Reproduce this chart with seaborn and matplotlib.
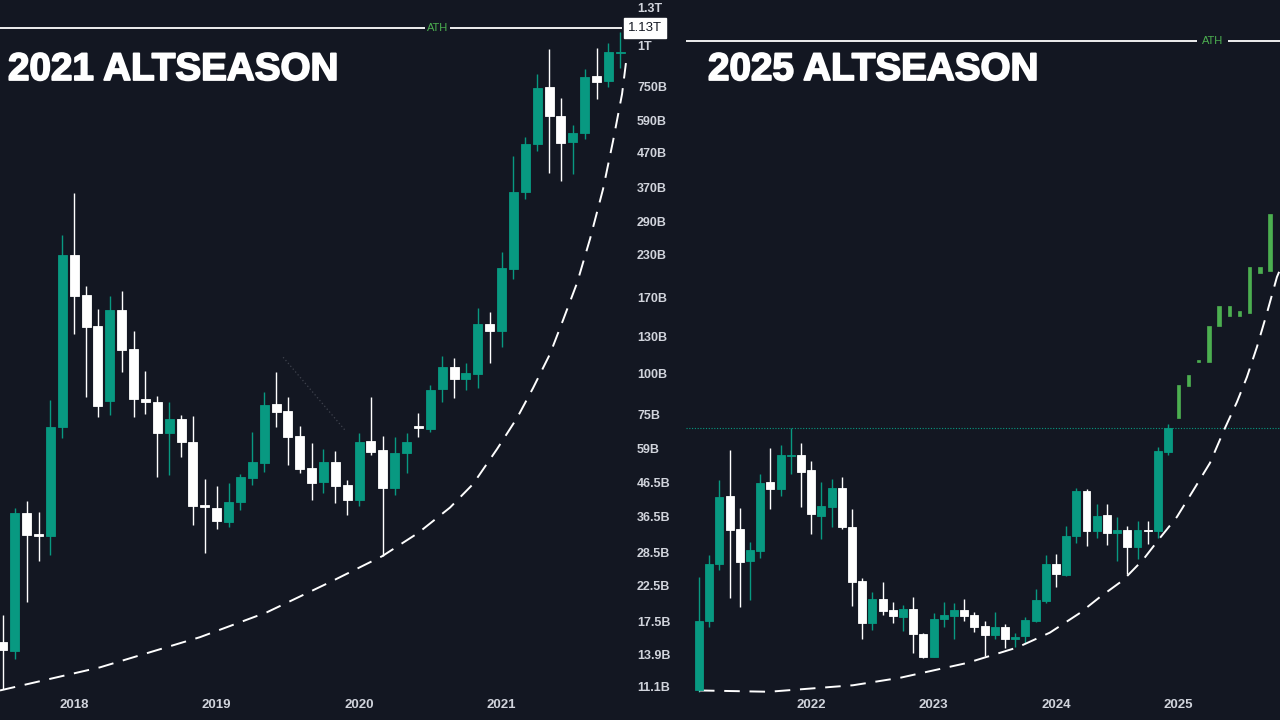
import numpy as np
import pandas as pd
import matplotlib
matplotlib.use('Agg')
import matplotlib.pyplot as plt
import matplotlib.transforms as mtransforms
import matplotlib.patheffects as pe
from matplotlib.ticker import NullLocator
import seaborn as sns

# ---- data (values in billions USD) ----
left_start = '2017-07'
left_open = [15.2, 14.2, 37.5, 32.4, 31.9, 68.6, 230, 173, 139.5, 82.4, 156, 118.6, 83.5, 81.8, 65.8,
             72.6, 61.8, 39.7, 38.9, 35.2, 40.5, 48.0, 53.3, 80.7, 76.8, 64.4, 51.5, 46.6, 53.7, 45.7,
             41.1, 62.2, 58.4, 44.7, 57.2, 69.1, 67.7, 89.6, 104.6, 96.1, 99.5, 141, 134.6, 208, 357,
             500, 747, 609, 507, 541, 806, 778, 948]
left_high = [18.3, 38.9, 40.8, 37.8, 83.0, 264, 355, 185, 157, 172, 178, 134.6, 101.7, 85.3, 81.8,
             74.7, 74.1, 47.6, 45.3, 46.3, 49.4, 66.3, 87.7, 100.9, 84.7, 69.1, 61.3, 58.8, 58.0, 47.3,
             65.8, 84.7, 64.4, 64.0, 65.8, 75.7, 92.1, 112.9, 111.4, 107.6, 158, 154, 234, 460, 526,
             818, 975, 691, 572, 847, 982, 1016, 1098]
left_low = [10.9, 13.5, 20.1, 26.8, 27.9, 63.5, 131.8, 84.7, 73.6, 74.7, 100.9, 73.6, 75.2, 48.3, 49.0,
            55.6, 34.5, 28.3, 33.5, 34.0, 38.3, 45.7, 50.1, 68.6, 52.6, 49.7, 41.1, 43.2, 40.2, 37.0,
            39.4, 56.4, 27.7, 42.6, 49.7, 64.0, 66.3, 81.8, 84.1, 89.0, 90.2, 107.6, 120.4, 194, 340,
            476, 408, 386, 405, 518, 686, 747, 853]
left_close = [14.3, 37.5, 32.2, 31.9, 68.6, 230, 172, 138.5, 79.5, 156, 117.8, 83.5, 81.8, 65.8, 72.6,
              61.8, 39.4, 39.1, 35.5, 40.5, 48.3, 53.7, 80.1, 76.3, 64.0, 51.1, 46.3, 53.7, 45.3, 41.1,
              61.8, 57.6, 44.7, 57.2, 61.8, 68.1, 89.0, 104.6, 96.1, 100.2, 141, 134.6, 210, 357, 500,
              741, 609, 504, 541, 801, 773, 954, 954]

right_start = '2021-02'
right_open = [10.8, 17.6, 26.2, 42.3, 33.5, 26.8, 28.7, 46.6, 44.4, 56.0, 56.4, 50.8, 36.7, 39.1, 44.7,
              34.0, 23.3, 17.3, 20.5, 19.0, 18.1, 19.1, 16.0, 13.7, 17.8, 18.2, 19.0, 18.3, 17.0, 15.9,
              16.9, 15.5, 15.8, 17.6, 20.2, 26.2, 24.3, 31.9, 43.8, 33.1, 37.0, 32.6, 33.3, 29.6, 33.3,
              33.1, 57.6]
right_high = [23.9, 27.9, 47.3, 58.4, 38.9, 30.6, 49.4, 59.2, 60.5, 68.1, 61.3, 54.1, 46.6, 47.6, 48.3,
              38.6, 23.8, 21.6, 23.1, 20.1, 19.7, 20.8, 16.2, 18.6, 20.1, 19.9, 20.5, 18.7, 17.6, 18.7,
              17.2, 16.2, 18.1, 22.0, 27.9, 28.1, 34.3, 44.7, 44.4, 40.0, 40.0, 36.5, 34.3, 35.5, 35.5,
              59.6, 70.1]
right_low = [10.7, 16.9, 25.1, 20.7, 19.4, 20.4, 27.4, 38.6, 42.3, 49.4, 39.1, 32.4, 31.3, 34.0, 33.5,
             19.5, 15.5, 16.5, 18.3, 17.3, 16.4, 14.0, 13.6, 13.7, 16.9, 15.5, 17.6, 16.3, 13.8, 15.5,
             14.5, 14.6, 15.1, 17.5, 19.9, 22.3, 24.1, 30.4, 29.8, 31.5, 30.0, 26.8, 24.5, 27.2, 30.2,
             31.5, 56.4]
right_close = [17.6, 26.2, 42.0, 33.3, 26.6, 28.9, 46.3, 44.4, 56.4, 56.4, 50.1, 37.3, 39.4, 44.7, 34.0,
               23.1, 17.3, 20.5, 18.9, 18.2, 19.1, 16.0, 13.7, 17.8, 18.3, 19.0, 18.2, 16.9, 15.9, 16.9,
               15.5, 15.7, 17.7, 20.4, 26.2, 24.5, 31.9, 43.8, 33.1, 36.7, 32.6, 33.3, 29.6, 33.3, 33.1,
               58.0, 68.1]

# projected 2025 bars (low / high)
proj_low = [73.1, 91.5, 108.3, 108.3, 139.5, 149.6, 149.6, 152.8, 202, 205]
proj_high = [92.1, 98.9, 109.8, 139.5, 160.5, 160.5, 154.9, 211, 211, 306]

# hand-drawn support curves (month position, value)
left_curve_x = [-0.25, 8.17, 16.6, 22.24, 27.55, 31.93, 34.96, 37.66, 39.6, 41.62, 43.3,
                44.65, 46.08, 47.18, 48.36, 49.45, 50.55, 51.39, 52.15, 52.57]
left_curve_y = [10.8, 12.7, 15.7, 18.7, 23.1, 27.7, 32.6, 39.0, 46.0, 58.8, 73.1,
                90.2, 114.6, 145.4, 188.7, 256.9, 364.9, 511, 711, 941]
right_curve_x = [0, 6.86, 15.1, 19.7, 26.3, 31.2, 34.4, 37.35, 39.31, 41.57, 43.53, 45.2, 46.86,
                 48.43, 50.1, 51.57, 52.75, 53.73, 54.71, 55.69, 56.67, 56.96]
right_curve_y = [10.8, 10.7, 11.2, 11.8, 13.1, 14.6, 16.2, 18.6, 20.8, 23.4, 27.0, 31.5, 36.5,
                 43.8, 53.3, 68.1, 81.8, 97.5, 120.4, 152.8, 196.7, 206.6]

ath_left = 1130
ath_right = 1030
breakout_level = 68.1

tick_vals = [1300, 1000, 750, 590, 470, 370, 290, 230, 170, 130, 100, 75, 59, 46.5, 36.5, 28.5,
             22.5, 17.5, 13.9, 11.1]
tick_labels = ['1.3T', '1T', '750B', '590B', '470B', '370B', '290B', '230B', '170B', '130B', '100B',
               '75B', '59B', '46.5B', '36.5B', '28.5B', '22.5B', '17.5B', '13.9B', '11.1B']

# ---- style ----
BG = '#131722'
GREEN = '#089981'
WHITE = '#ffffff'
PROJ = '#4caf50'
TXT = '#d1d4dc'

sns.set_theme(style='dark', rc={'axes.facecolor': BG, 'figure.facecolor': BG,
                                'axes.grid': False, 'savefig.facecolor': BG})
plt.rcParams['font.family'] = ['Liberation Sans', 'DejaVu Sans']

fig = plt.figure(figsize=(12.8, 7.2), dpi=100)
ax1 = fig.add_axes([0, 25 / 720, 628 / 1280, 695 / 720])
ax2 = fig.add_axes([686 / 1280, 25 / 720, 594 / 1280, 695 / 720])


def draw_candles(ax, o, h, l, c, width):
    o, h, l, c = map(np.asarray, (o, h, l, c))
    x = np.arange(len(o))
    col = np.where(c >= o, GREEN, WHITE)
    ax.vlines(x, l, h, colors=col, lw=1.0, zorder=2)
    bottom = np.minimum(o, c)
    top = np.maximum(o, c)
    ax.bar(x, top - bottom, bottom=bottom, width=width, color=col, edgecolor=col,
           linewidth=0.6, zorder=3)


for ax in (ax1, ax2):
    ax.set_yscale('log')
    ax.set_ylim(10.46, 1375)
    for s in ax.spines.values():
        s.set_visible(False)

# left panel
draw_candles(ax1, left_open, left_high, left_low, left_close, 0.76)
sns.lineplot(x=left_curve_x, y=left_curve_y, ax=ax1, color='white', lw=1.4, sort=False, estimator=None)
ax1.lines[-1].set_dashes((8, 5))
# faint old trendline
ax1.plot([23.6, 28.8], [112, 67.2], color='#5d606b', lw=0.9, ls=(0, (1, 2)), alpha=0.6)

ax1.hlines(ath_left, -0.25, 35.55, color='white', lw=1.3, zorder=4)
ax1.hlines(ath_left, 37.66, 52.15, color='white', lw=1.3, zorder=4)
ax1.text(36.6, ath_left, 'ATH', color=PROJ, fontsize=8, ha='center', va='center')
trans = mtransforms.blended_transform_factory(ax1.transAxes, ax1.transData)
ax1.text(1.0, ath_left, '1.13T', transform=trans, ha='left', va='center', fontsize=9.5, color=BG,
         bbox=dict(boxstyle='square,pad=0.3', fc='white', ec='white'), clip_on=False, zorder=6)

ax1.set_xlim(-0.25, 52.65)
lm = pd.period_range(left_start, periods=len(left_open), freq='M')
lt = [i for i, p in enumerate(lm) if p.month == 1]
ax1.set_xticks(lt)
ax1.set_xticklabels([str(lm[i].year) for i in lt], fontweight='bold', fontsize=9.5, color=TXT)
ax1.yaxis.tick_right()
ax1.set_yticks(tick_vals)
ax1.set_yticklabels(tick_labels, fontweight='bold', fontsize=9, color=TXT)
ax1.yaxis.set_minor_locator(NullLocator())
ax1.tick_params(axis='x', length=0, pad=3)
ax1.tick_params(axis='y', length=0, pad=6.5)

# right panel
draw_candles(ax2, right_open, right_high, right_low, right_close, 0.78)
px = np.arange(len(right_open), len(right_open) + len(proj_low))
ax2.bar(px, np.array(proj_high) - np.array(proj_low), bottom=proj_low, width=0.32, color=PROJ,
        edgecolor=PROJ, linewidth=0.5, zorder=3)
sns.lineplot(x=right_curve_x, y=right_curve_y, ax=ax2, color='white', lw=1.4, sort=False, estimator=None)
ax2.lines[-1].set_dashes((8, 5))
ax2.axhline(breakout_level, color=GREEN, lw=0.8, ls=(0, (1, 1.5)), zorder=1)

ax2.hlines(ath_right, -1.27, 48.8, color='white', lw=1.3, zorder=4)
ax2.hlines(ath_right, 51.9, 57.0, color='white', lw=1.3, zorder=4)
ax2.text(50.4, ath_right, 'ATH', color=PROJ, fontsize=8, ha='center', va='center')

ax2.set_xlim(-1.27, 56.97)
rm = pd.period_range(right_start, periods=len(right_open) + len(proj_low), freq='M')
rt = [i for i, p in enumerate(rm) if p.month == 1]
ax2.set_xticks(rt)
ax2.set_xticklabels([str(rm[i].year) for i in rt], fontweight='bold', fontsize=9.5, color=TXT)
ax2.set_yticks([])
ax2.yaxis.set_minor_locator(NullLocator())
ax2.tick_params(axis='x', length=0, pad=3)

heavy = [pe.withStroke(linewidth=1.3, foreground='white')]
fig.text(8 / 1280, 1 - 80 / 720, '2021 ALTSEASON', fontsize=27.8, fontweight='bold', color='white',
         va='baseline', path_effects=heavy)
fig.text(708 / 1280, 1 - 80 / 720, '2025 ALTSEASON', fontsize=27.8, fontweight='bold', color='white',
         va='baseline', path_effects=heavy)

fig.savefig('out.png', dpi=100, facecolor=BG)
